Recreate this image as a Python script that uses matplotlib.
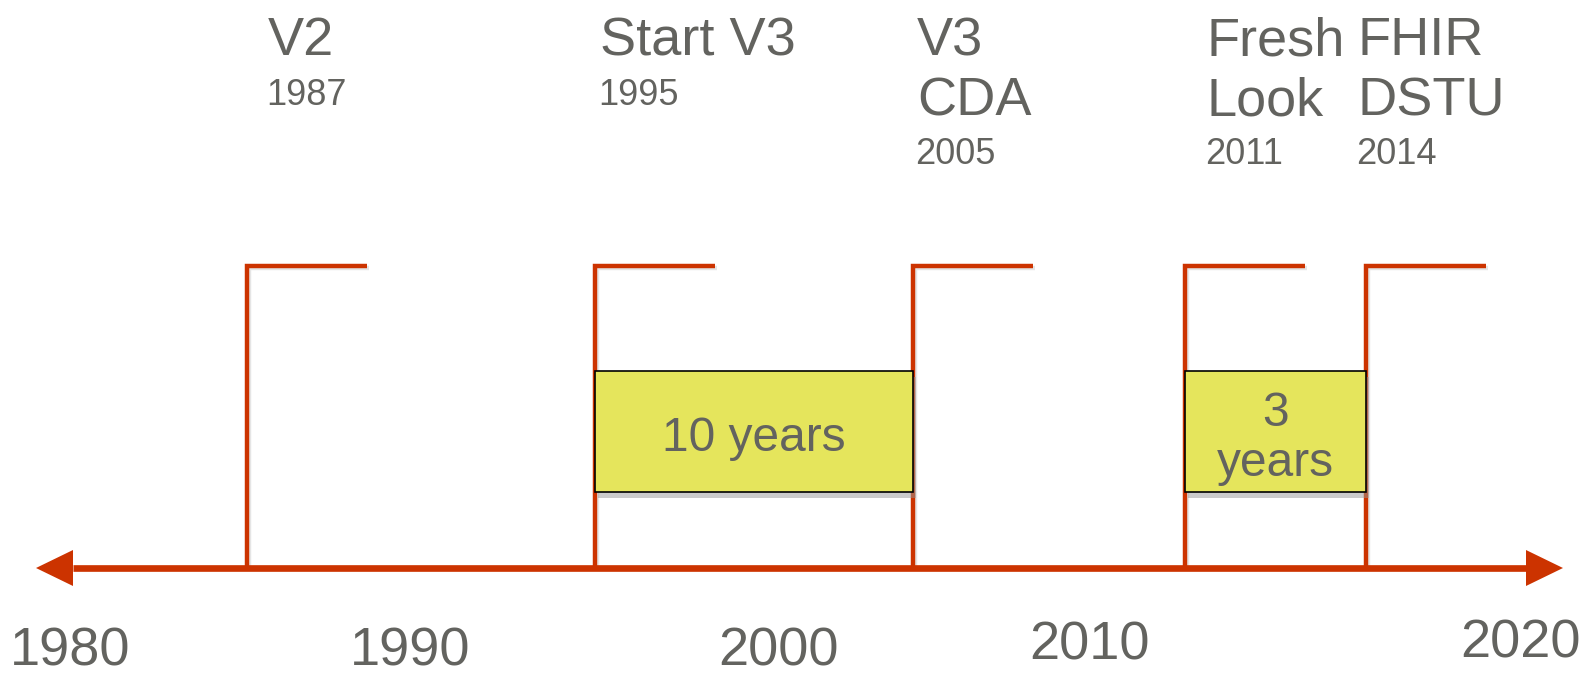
import matplotlib
matplotlib.use("Agg")
import matplotlib.pyplot as plt
import matplotlib.patheffects as pe
from matplotlib.patches import Rectangle

plt.rcParams["font.family"] = ["Liberation Sans", "DejaVu Sans"]

# ----- data -----
axis_years = ["1980", "1990", "2000", "2010", "2020"]
milestone_years = ["1987", "1995", "2005", "2011", "2014"]
milestone_titles = [["V2"], ["Start V3"], ["V3", "CDA"], ["Fresh", "Look"], ["FHIR", "DSTU"]]
span_labels = ["10 years", "3\nyears"]
span_from = [1, 3]   # index into milestones
span_to = [2, 4]

# ----- layout (pixel-like canvas, y downwards) -----
W, H = 1583, 677
axis_label_x = [70, 410, 779, 1090, 1521]
axis_label_base = [665, 665, 665, 659, 657]
flag_x = [247, 595, 913, 1185, 1366]
title_x = [268, 600, 917, 1207, 1358]
flag_w = 120
flag_top = 266
line_y = 568
line_x0, line_x1 = 36, 1563
head_len, head_half = 37, 18
box_top, box_bot = 371, 492

RED = "#CC3300"
GRAY = "#63635F"
YELLOW = "#E5E55C"

fig = plt.figure(figsize=(W / 100, H / 100), dpi=100)
ax = fig.add_axes([0, 0, 1, 1])
ax.set_xlim(0, W)
ax.set_ylim(H, 0)
ax.axis("off")

shadow = [pe.SimpleLineShadow(offset=(1.5, -1.5), shadow_color="0.8", alpha=0.5), pe.Normal()]

# flags
for x in flag_x:
    ax.plot([x, x, x + flag_w], [line_y, flag_top, flag_top], color=RED, lw=3.2,
            solid_joinstyle="miter", solid_capstyle="butt", path_effects=shadow, zorder=2)

# main timeline with arrow heads
ax.plot([line_x0 + head_len, line_x1 - head_len], [line_y, line_y], color=RED, lw=4.8,
        solid_capstyle="butt", zorder=3)
ax.fill([line_x0, line_x0 + head_len, line_x0 + head_len],
        [line_y, line_y - head_half, line_y + head_half], color=RED, lw=0, zorder=3)
ax.fill([line_x1, line_x1 - head_len, line_x1 - head_len],
        [line_y, line_y - head_half, line_y + head_half], color=RED, lw=0, zorder=3)

# span boxes
for lab, a, b in zip(span_labels, span_from, span_to):
    x0, x1 = flag_x[a], flag_x[b]
    r = Rectangle((x0, box_top), x1 - x0, box_bot - box_top, facecolor=YELLOW,
                  edgecolor="black", lw=1.2, zorder=4,
                  path_effects=[pe.SimplePatchShadow(offset=(2, -4), shadow_rgbFace="0.6", alpha=0.5),
                                pe.Normal()])
    ax.add_patch(r)
    ax.text((x0 + x1) / 2, (box_top + box_bot) / 2 + 7, lab, ha="center", va="center",
            fontsize=34.5, color=GRAY, linespacing=1.14, zorder=5)

# milestone titles and years
for tx, lines, yr in zip(title_x, milestone_titles, milestone_years):
    for i, ln in enumerate(lines):
        ax.text(tx, 55 + 61 * i, ln, ha="left", va="baseline", fontsize=39, color=GRAY)
    yb = 105 if len(lines) == 1 else 164
    ax.text(tx - 2, yb, yr, ha="left", va="baseline", fontsize=26, color=GRAY)

# axis year labels
for lx, lb, yr in zip(axis_label_x, axis_label_base, axis_years):
    ax.text(lx, lb, yr, ha="center", va="baseline", fontsize=39, color=GRAY)

fig.savefig("out.png", dpi=100, facecolor="white")
